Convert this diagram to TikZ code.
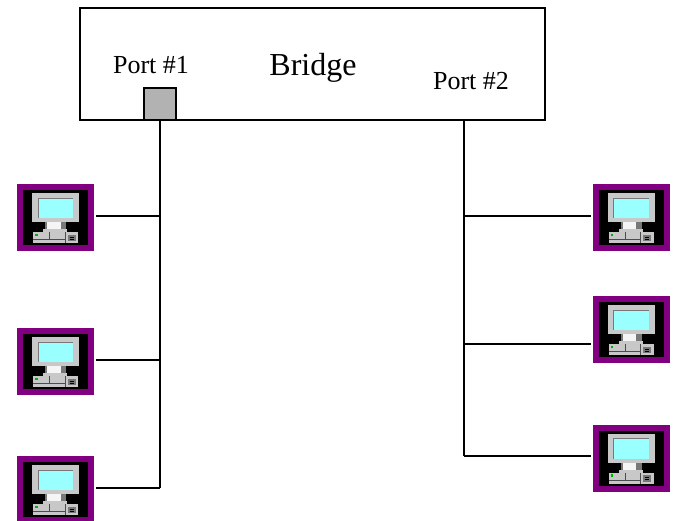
\documentclass[tikz,border=0pt]{standalone}
\usepackage{fontspec}
\setmainfont{Liberation Serif}
\definecolor{hostpurple}{RGB}{128,0,128}
\definecolor{hostcyan}{RGB}{153,255,255}
\definecolor{hostgrey}{RGB}{200,200,200}
\definecolor{hostdark}{RGB}{120,120,120}
\definecolor{portgrey}{RGB}{178,178,178}
\tikzset{
  hostbox/.style={fill=black, minimum width=65pt, minimum height=56pt, inner sep=0pt, outer sep=0pt},
  wire/.style={line width=1.8pt},
  portlabel/.style={font=\fontsize{26}{28}\selectfont, inner sep=0pt},
  host/.pic={
    \draw [hostpurple, line width=6pt] (-35.5,-30.5) rectangle (35.5,30.5);
    \fill [black] (-32.5,-27.5) rectangle (32.5,27.5);
    \fill [hostgrey] (-23.5,-24.5) rectangle (23.5,4.5);
    \fill [hostcyan] (-17.5,-19.5) rectangle (17.5,0.5);
    \draw [hostdark, line width=1pt] (-17.5,0.5) -- (-17.5,-19.5) -- (17.5,-19.5);
    \fill [hostdark] (-10.5,4.5) rectangle (10.5,11.5);
    \fill [white!92!gray] (-8.5,4.5) rectangle (5,11.5);
    \fill [hostgrey] (-12.5,11.5) rectangle (11.5,14.5);
    \fill [hostgrey] (-22.5,14.5) rectangle (22.5,25.5);
    \draw [black!70, line width=0.6pt] (-6,14.5) -- (-6,22) (-22.5,22) -- (9.5,22) (9.5,14.5) -- (9.5,25.5);
    \fill [hostdark] (12,17) rectangle (20,23.5);
    \draw [black, line width=0.4pt] (14,19.5) -- (18,19.5) (14,21.5) -- (18,21.5);
    \fill [green!70!black] (-20.5,16) rectangle (-18,18.5);
  }
}
\begin{document}
\begin{tikzpicture}
[x=1pt, y=-1pt]
\useasboundingbox (0,0) rectangle (674,520);
\node [draw, line width=1.8pt, minimum width=465pt, minimum height=112pt, inner sep=0pt, outer sep=0pt] (bridge) at (312.8,64.2) {};
\node [draw, line width=1.8pt, fill=portgrey, minimum width=32pt, minimum height=32pt, inner sep=0pt, outer sep=0pt] (port1) at (160.2,104.2) {};
\node [portlabel] (port1label) at (151,65) {Port \#1};
\node [portlabel] (port2label) at (471,81) {Port \#2};
\node [font=\fontsize{32}{34}\selectfont, inner sep=0pt] (bridgelabel) at (313,68) {Bridge};
\coordinate (port2) at (464.2,120.2);
\foreach \name/\cx/\cy in {a/55.5/217.5, b/55.5/361.5, c/55.5/489.5, d/631/217.5, e/631/329.5, f/631/458}
  \path (\cx,\cy) node [hostbox] (\name) {} pic {host};
\coordinate (ja) at (160.2,216);
\coordinate (jb) at (160.2,360);
\coordinate (jc) at (160.2,488.2);
\coordinate (jd) at (464.2,216);
\coordinate (je) at (464.2,344);
\coordinate (jf) at (464.2,456.2);
\draw [wire] (port1.south) -- (jc);
\draw [wire] (port2) -- (jf);
\draw [wire] (ja) -- ++(-64.5,0);
\draw [wire] (jb) -- ++(-64.5,0);
\draw [wire] (jc) -- ++(-64.5,0);
\draw [wire] (jd) -- ++(127,0);
\draw [wire] (je) -- ++(127,0);
\draw [wire] (jf) -- ++(127,0);
\end{tikzpicture}
\end{document}
